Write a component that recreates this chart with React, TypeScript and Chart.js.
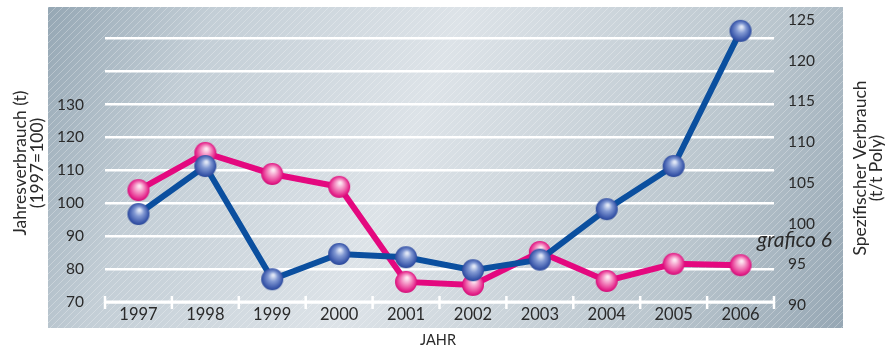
import { useEffect, useRef } from "react";
import { Chart, registerables } from "chart.js";

Chart.register(...registerables);

const years = ["1997", "1998", "1999", "2000", "2001", "2002", "2003", "2004", "2005", "2006"];
const jahresverbrauch = [104.0, 115.3, 108.9, 105.0, 76.1, 75.2, 85.2, 76.4, 81.6, 81.2];
const spezifischerVerbrauch = [100.8, 106.7, 92.8, 95.9, 95.5, 93.9, 95.2, 101.4, 106.7, 123.3];
const leftTicks = { min: 70, max: 156.6, step: 10, lastLabel: 130 };
const rightTicks = { min: 90, max: 125, step: 5 };

const FONT = "Lato, 'Noto Sans', sans-serif";
const PINK = "#e4087f";
const BLUE = "#0b4f9f";

function sphere(stops: [number, string][]) {
  const c = document.createElement("canvas");
  c.width = 24;
  c.height = 24;
  const g = c.getContext("2d")!;
  const grad = g.createRadialGradient(13, 8, 1, 12, 12, 12);
  stops.forEach(([o, col]) => grad.addColorStop(o, col));
  g.fillStyle = grad;
  g.beginPath();
  g.arc(12, 12, 11, 0, Math.PI * 2);
  g.fill();
  return c;
}

const bgPlugin = {
  id: "panel",
  beforeDraw(chart: any) {
    const ctx = chart.ctx as CanvasRenderingContext2D;
    const x0 = 48, y0 = 7, x1 = 843, y1 = 328;
    ctx.save();
    const grad = ctx.createLinearGradient(x0, y0, x1, y1);
    grad.addColorStop(0, "#95a7b4");
    grad.addColorStop(0.18, "#c3ced6");
    grad.addColorStop(0.45, "#dde3e8");
    grad.addColorStop(0.8, "#b9c5cd");
    grad.addColorStop(1, "#96a7b4");
    ctx.fillStyle = grad;
    ctx.fillRect(x0, y0, x1 - x0, y1 - y0);
    const p = document.createElement("canvas");
    p.width = 7;
    p.height = 7;
    const pc = p.getContext("2d")!;
    pc.strokeStyle = "rgba(255,255,255,0.35)";
    pc.lineWidth = 0.8;
    pc.beginPath();
    pc.moveTo(0, 7);
    pc.lineTo(7, 0);
    pc.stroke();
    const pat = ctx.createPattern(p, "repeat");
    if (pat) {
      ctx.fillStyle = pat;
      ctx.fillRect(x0, y0, x1 - x0, y1 - y0);
    }
    ctx.restore();
  },
  beforeDatasetsDraw(chart: any) {
    const ctx = chart.ctx as CanvasRenderingContext2D;
    const xs = chart.scales.x;
    const { left, right, bottom } = chart.chartArea;
    ctx.save();
    ctx.strokeStyle = "#ffffff";
    ctx.lineWidth = 3;
    ctx.beginPath();
    ctx.moveTo(left, bottom);
    ctx.lineTo(right, bottom);
    ctx.stroke();
    ctx.lineWidth = 2.5;
    const n = years.length;
    for (let i = 0; i <= n; i++) {
      let x;
      if (i === 0) x = left;
      else if (i === n) x = right;
      else x = (xs.getPixelForValue(i - 1) + xs.getPixelForValue(i)) / 2;
      ctx.beginPath();
      ctx.moveTo(x, bottom - 6);
      ctx.lineTo(x, bottom + 7);
      ctx.stroke();
    }
    ctx.restore();
  },
  afterDraw(chart: any) {
    const ctx = chart.ctx as CanvasRenderingContext2D;
    ctx.save();
    ctx.fillStyle = "#2a2a2a";
    ctx.textAlign = "center";
    ctx.textBaseline = "middle";
    ctx.font = `17.5px ${FONT}`;
    const vtext = (t: string, x: number, y: number) => {
      ctx.save();
      ctx.translate(x, y);
      ctx.rotate(-Math.PI / 2);
      ctx.fillText(t, 0, 0);
      ctx.restore();
    };
    vtext("Jahresverbrauch (t)", 20, 163);
    vtext("(1997=100)", 37, 163);
    vtext("Spezifischer Verbrauch", 860, 168);
    vtext("(t/t Poly)", 876, 168);
    ctx.font = `14.5px ${FONT}`;
    ctx.fillText("JAHR", 438, 340);
    ctx.font = `italic 21px ${FONT}`;
    ctx.textAlign = "left";
    ctx.textBaseline = "alphabetic";
    ctx.fillText("grafico 6", 757, 247);
    ctx.restore();
  },
};

export default function App() {
  const ref = useRef<HTMLCanvasElement>(null);
  useEffect(() => {
    if (!ref.current) return;
    const pinkBall = sphere([
      [0, "#fde6f1"],
      [0.35, "#f491c4"],
      [0.8, "#e42289"],
      [1, "#c4006c"],
    ]);
    const blueBall = sphere([
      [0, "#dfe6f6"],
      [0.35, "#8299d3"],
      [0.8, "#3a57aa"],
      [1, "#22408e"],
    ]);
    const chart = new Chart(ref.current, {
      type: "line",
      data: {
        labels: years,
        datasets: [
          {
            label: "Spezifischer Verbrauch",
            data: spezifischerVerbrauch,
            yAxisID: "y1",
            borderColor: BLUE,
            borderWidth: 6,
            pointStyle: blueBall as any,
            pointRadius: 11,
            tension: 0,
            order: 0,
          },
          {
            label: "Jahresverbrauch",
            data: jahresverbrauch,
            yAxisID: "y",
            borderColor: PINK,
            borderWidth: 6,
            pointStyle: pinkBall as any,
            pointRadius: 11,
            tension: 0,
            order: 1,
          },
        ],
      },
      options: {
        responsive: false,
        animation: false,
        layout: { padding: { top: 17, left: 0, right: 0, bottom: 0 } },
        plugins: { legend: { display: false }, tooltip: { enabled: false } },
        scales: {
          x: {
            offset: true,
            grid: { display: false, drawTicks: false },
            border: { display: false },
            ticks: {
              color: "#2a2a2a",
              font: { family: FONT, size: 16.5 },
              padding: 3,
              maxRotation: 0,
              autoSkip: false,
            },
            afterFit(s: any) {
              s.height = 49;
              s.paddingLeft = 0;
              s.paddingRight = 0;
            },
          },
          y: {
            position: "left",
            min: leftTicks.min,
            max: leftTicks.max,
            grid: { color: "#ffffff", lineWidth: 2.5, drawTicks: false },
            border: { display: false },
            ticks: {
              stepSize: leftTicks.step,
              includeBounds: false,
              padding: 21,
              color: "#2a2a2a",
              font: { family: FONT, size: 15.5 },
              callback: (v: any) => (Number(v) <= leftTicks.lastLabel ? String(v) : ""),
            },
            afterFit(s: any) {
              s.width = 105;
              s.paddingTop = 0;
              s.paddingBottom = 0;
            },
          },
          y1: {
            position: "right",
            min: rightTicks.min,
            max: rightTicks.max,
            grid: { display: false, drawTicks: false },
            border: { display: false },
            ticks: {
              stepSize: rightTicks.step,
              padding: 14,
              labelOffset: 3,
              color: "#2a2a2a",
              font: { family: FONT, size: 15.5 },
            },
            afterFit(s: any) {
              s.width = 111;
              s.paddingTop = 0;
              s.paddingBottom = 0;
            },
          },
        },
      },
      plugins: [bgPlugin],
    });
    return () => chart.destroy();
  }, []);
  return (
    <div style={{ position: "absolute", left: 0, top: 0, width: 885, height: 351, background: "#fff" }}>
      <canvas ref={ref} width={885} height={351} />
    </div>
  );
}
